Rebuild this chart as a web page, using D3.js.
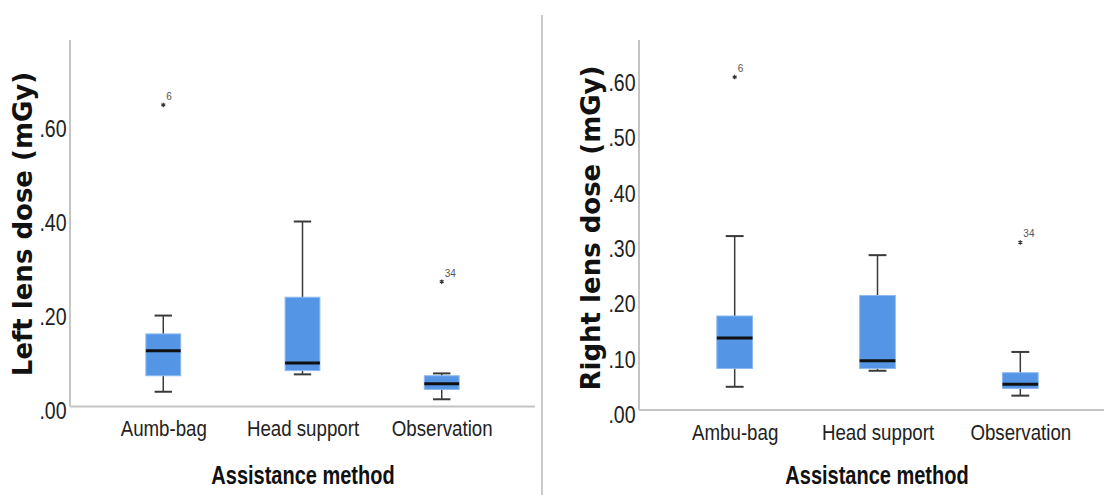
<!DOCTYPE html>
<html>
<head>
<meta charset="utf-8">
<script src="https://cdn.jsdelivr.net/npm/d3@7"></script>
<style>
  body { margin: 0; background: #fff; }
  svg { display: block; }
</style>
</head>
<body>
<svg width="1104" height="495"></svg>
<script>
// data
var leftCategories = ["Aumb-bag", "Head support", "Observation"];
var leftLow    = [0.042, 0.079, 0.026];
var leftQ1     = [0.076, 0.087, 0.047];
var leftMedian = [0.129, 0.103, 0.059];
var leftQ3     = [0.165, 0.243, 0.076];
var leftHigh   = [0.204, 0.404, 0.081];
var leftOutliers = [
  { cat: "Aumb-bag", value: 0.652, id: "6" },
  { cat: "Observation", value: 0.276, id: "34" }
];
var leftTicks = [0, 0.2, 0.4, 0.6];

var rightCategories = ["Ambu-bag", "Head support", "Observation"];
var rightLow    = [0.051, 0.080, 0.035];
var rightQ1     = [0.084, 0.084, 0.048];
var rightMedian = [0.139, 0.098, 0.0555];
var rightQ3     = [0.179, 0.216, 0.0765];
var rightHigh   = [0.3235, 0.289, 0.114];
var rightOutliers = [
  { cat: "Ambu-bag", value: 0.611, id: "6" },
  { cat: "Observation", value: 0.312, id: "34" }
];
var rightTicks = [0, 0.1, 0.2, 0.3, 0.4, 0.5, 0.6];

// no condensed font installed, so squeeze Liberation Sans sideways
var narrow = "'Liberation Sans', Arial, sans-serif";
var svg = d3.select("svg");

// thin divider between the two charts
svg.append("line")
    .attr("x1", 542).attr("x2", 542)
    .attr("y1", 15).attr("y2", 495)
    .attr("stroke", "#c9c9c9")
    .attr("stroke-width", 2);

function fmt(v) {
  return d3.format(".2f")(v).replace(/^0/, "");
}

function drawPanel(p) {
  var x = d3.scalePoint()
      .domain(p.categories)
      .range([p.left, p.right])
      .padding(0.67);

  var y = d3.scaleLinear()
      .domain([0, p.yMax])
      .range([p.zeroY, p.top]);

  var boxW = x.step() * 0.25;
  var axisY = p.zeroY - 5;

  var g = svg.append("g");

  // axis lines
  g.append("line")
      .attr("x1", p.left).attr("x2", p.left)
      .attr("y1", p.top).attr("y2", axisY)
      .attr("stroke", "#c4c4c4").attr("stroke-width", 2);
  g.append("line")
      .attr("x1", p.left).attr("x2", p.right)
      .attr("y1", axisY).attr("y2", axisY)
      .attr("stroke", "#c4c4c4").attr("stroke-width", 2);

  // y tick labels
  var yAxis = g.append("g")
      .attr("transform", "translate(" + p.left + ",0)")
      .call(d3.axisLeft(y).tickValues(p.ticks).tickSize(0).tickPadding(4).tickFormat(fmt));
  yAxis.select(".domain").remove();
  yAxis.selectAll("text")
      .attr("font-family", narrow)
      .attr("font-size", 23)
      .attr("fill", "#222")
      .attr("transform", "scale(0.85,1)");

  // x tick labels
  var xAxis = g.append("g")
      .attr("transform", "translate(0," + axisY + ")")
      .call(d3.axisBottom(x).tickSize(0).tickPadding(14));
  xAxis.select(".domain").remove();
  xAxis.selectAll("text")
      .attr("font-family", narrow)
      .attr("font-size", 22)
      .attr("fill", "#222")
      .attr("transform", "scale(0.85,1)");

  var stats = p.categories.map(function(c, i) {
    return { cat: c, low: p.low[i], q1: p.q1[i], med: p.median[i], q3: p.q3[i], high: p.high[i] };
  });

  var box = g.selectAll(".box")
      .data(stats)
      .enter()
      .append("g");

  // whiskers
  box.append("line")
      .attr("x1", function(d) { return x(d.cat); })
      .attr("x2", function(d) { return x(d.cat); })
      .attr("y1", function(d) { return y(d.high); })
      .attr("y2", function(d) { return y(d.low); })
      .attr("stroke", "#3a3a3a").attr("stroke-width", 1.5);
  ["high", "low"].forEach(function(k) {
    box.append("line")
        .attr("x1", function(d) { return x(d.cat) - boxW / 4; })
        .attr("x2", function(d) { return x(d.cat) + boxW / 4; })
        .attr("y1", function(d) { return y(d[k]); })
        .attr("y2", function(d) { return y(d[k]); })
        .attr("stroke", "#3a3a3a").attr("stroke-width", 2);
  });

  box.append("rect")
      .attr("x", function(d) { return x(d.cat) - boxW / 2; })
      .attr("width", boxW)
      .attr("y", function(d) { return y(d.q3); })
      .attr("height", function(d) { return y(d.q1) - y(d.q3); })
      .attr("fill", "#5595e5")
      .attr("stroke", "#8dbaf2")
      .attr("stroke-width", 1);

  box.append("line")
      .attr("x1", function(d) { return x(d.cat) - boxW / 2; })
      .attr("x2", function(d) { return x(d.cat) + boxW / 2; })
      .attr("y1", function(d) { return y(d.med); })
      .attr("y2", function(d) { return y(d.med); })
      .attr("stroke", "#111").attr("stroke-width", 3);

  // extreme values
  var star = d3.symbol().type(d3.symbolAsterisk || d3.symbolCross).size(14);
  var out = g.selectAll(".out")
      .data(p.outliers)
      .enter()
      .append("g")
      .attr("transform", function(d) { return "translate(" + x(d.cat) + "," + y(d.value) + ")"; });
  out.append("path")
      .attr("d", star)
      .attr("fill", "none")
      .attr("stroke", "#333")
      .attr("stroke-width", 1.2);
  out.append("text")
      .attr("x", 3)
      .attr("y", -5)
      .attr("font-family", narrow)
      .attr("font-size", 10)
      .attr("fill", "#555")
      .text(function(d) { return d.id; });

  // axis titles
  g.append("text")
      .attr("transform", "translate(" + p.xTitleX + ",484) scale(0.8,1)")
      .attr("text-anchor", "middle")
      .attr("font-family", narrow)
      .attr("font-weight", "bold")
      .attr("font-size", 25)
      .attr("fill", "#111")
      .text("Assistance method");

  g.append("text")
      .attr("transform", "translate(" + p.yTitleX + "," + p.yTitleY + ") rotate(-90)")
      .attr("text-anchor", "middle")
      .attr("dominant-baseline", "central")
      .attr("font-family", "'DejaVu Sans', sans-serif")
      .attr("font-weight", "bold")
      .attr("font-size", 26)
      .attr("fill", "#111")
      .text(p.yTitle);
}

drawPanel({
  categories: leftCategories,
  low: leftLow, q1: leftQ1, median: leftMedian, q3: leftQ3, high: leftHigh,
  outliers: leftOutliers, ticks: leftTicks,
  left: 70, right: 535, top: 40, zeroY: 411.5, yMax: 0.79,
  xTitleX: 303, yTitleX: 23, yTitleY: 224,
  yTitle: "Left lens dose (mGy)"
});

drawPanel({
  categories: rightCategories,
  low: rightLow, q1: rightQ1, median: rightMedian, q3: rightQ3, high: rightHigh,
  outliers: rightOutliers, ticks: rightTicks,
  left: 639, right: 1116, top: 40, zeroY: 415, yMax: 0.678,
  xTitleX: 877, yTitleX: 591, yTitleY: 228,
  yTitle: "Right lens dose (mGy)"
});
</script>
</body>
</html>
